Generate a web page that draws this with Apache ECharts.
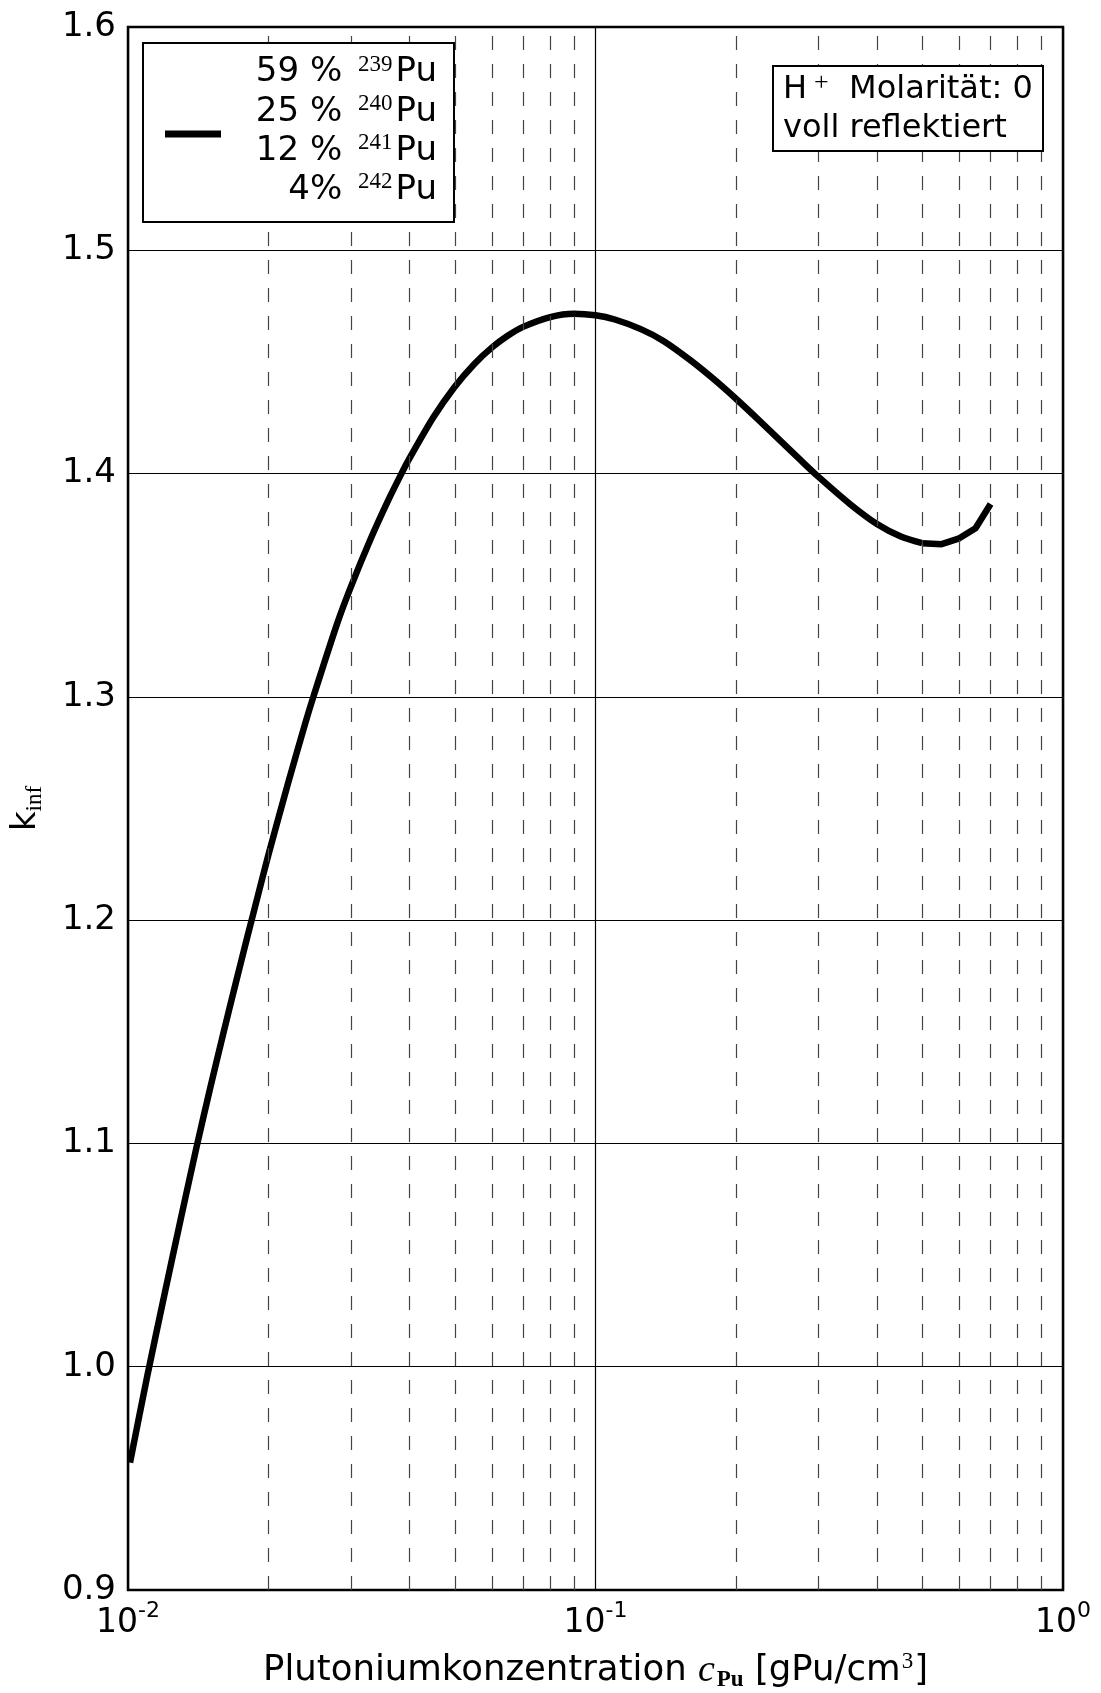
<!DOCTYPE html>
<html>
<head>
<meta charset="utf-8">
<script src="https://cdn.jsdelivr.net/npm/echarts@6/dist/echarts.min.js"></script>
<style>
  html, body { margin: 0; padding: 0; background: #fff; }
  #chart { width: 1101px; height: 1693px; }
</style>
</head>
<body>
<div id="chart"></div>
<script>
// Plutonium concentration in gPu/cm^3 and the infinite multiplication factor k_inf
const concentration = [
  0.0101, 0.011, 0.012, 0.013, 0.014, 0.015, 0.016, 0.017, 0.018, 0.019,
  0.020, 0.022, 0.024, 0.025, 0.028, 0.030, 0.033, 0.036, 0.0385, 0.040,
  0.045, 0.050, 0.055, 0.060, 0.065, 0.070, 0.080, 0.090, 0.100, 0.110,
  0.125, 0.140, 0.160, 0.180, 0.200, 0.225, 0.250, 0.275, 0.300, 0.350,
  0.400, 0.450, 0.500, 0.550, 0.600, 0.650, 0.700
];
const kInf = [
  0.957, 0.996, 1.0335, 1.0672, 1.0979, 1.125, 1.1495, 1.1718, 1.1925, 1.2117,
  1.2298, 1.2614, 1.2889, 1.301, 1.3327, 1.3495, 1.3705, 1.3879, 1.4002, 1.4068,
  1.4252, 1.4389, 1.449, 1.4564, 1.4618, 1.4657, 1.4701, 1.4716, 1.4709, 1.469,
  1.4647, 1.4593, 1.4506, 1.4419, 1.4334, 1.4234, 1.4142, 1.4059, 1.3985, 1.3864,
  1.3774, 1.3718, 1.3688, 1.3684, 1.371, 1.3755, 1.3864
];

// the coarse high-concentration end is drawn as straight segments
const coarseFrom = 0.5;

// dashed grid at the intermediate decade steps of the log axis
const minorGridValues = [
  0.02, 0.03, 0.04, 0.05, 0.06, 0.07, 0.08, 0.09,
  0.2, 0.3, 0.4, 0.5, 0.6, 0.7, 0.8, 0.9
];

const xRange = [0.01, 1];
const yRange = [0.9, 1.6];
const yStep = 0.1;

// composition of the plutonium vector
const isotopeShares = ['59 %', '25 %', '12 %', '4%'];
const isotopeMasses = ['239', '240', '241', '242'];

const infoLines = ['Molarität: 0', 'voll reflektiert'];

const SANS = '"DejaVu Sans", "Noto Sans", sans-serif';
const SERIF = '"Liberation Serif", "DejaVu Serif", serif';

const curve = concentration.map((c, i) => [c, kInf[i]]);
const splitAt = concentration.indexOf(coarseFrom);
const curveFine = curve.slice(0, splitAt + 1);
const curveCoarse = curve.slice(splitAt);

const chart = echarts.init(document.getElementById('chart'), null, { renderer: 'canvas' });

const legendText = isotopeShares.map((s, i) =>
  '{n|' + s + ' }{s|' + isotopeMasses[i] + '}{n|Pu}'
).join('\n');

const curveStyle = { color: '#000', width: 6.5, cap: 'butt', join: 'round' };

chart.setOption({
  animation: false,
  backgroundColor: '#fff',
  grid: {
    left: 128, top: 27, right: 38, bottom: 103,
    outerBoundsMode: 'none',
    containLabel: false,
    show: true, borderColor: '#000', borderWidth: 2.5, backgroundColor: 'transparent'
  },
  xAxis: {
    type: 'log',
    logBase: 10,
    min: xRange[0],
    max: xRange[1],
    axisLine: { show: false },
    axisTick: { show: false },
    splitLine: { show: true, lineStyle: { color: '#000', width: 1.2 } },
    axisLabel: {
      margin: 10,
      showMinLabel: true,
      showMaxLabel: true,
      formatter: v => '{b|10}{s|' + Math.round(Math.log10(v)) + '}',
      rich: {
        b: { fontFamily: SANS, fontSize: 33, color: '#000', lineHeight: 40, verticalAlign: 'bottom' },
        s: { fontFamily: SANS, fontSize: 22, color: '#000', lineHeight: 18, verticalAlign: 'top' }
      }
    },
    name: '{t|Plutoniumkonzentration }{c|c}{pu|Pu}{t| [gPu/cm}{e|3}{t|]}',
    nameLocation: 'middle',
    nameGap: 60,
    nameTextStyle: {
      rich: {
        t: { fontFamily: SANS, fontSize: 35.5, color: '#000', lineHeight: 42 },
        c: { fontFamily: SERIF, fontStyle: 'italic', fontSize: 38, color: '#000', lineHeight: 42, padding: [0, 2, 0, 0] },
        pu: { fontFamily: SERIF, fontWeight: 'bold', fontSize: 23, color: '#000', lineHeight: 26, verticalAlign: 'bottom' },
        e: { fontFamily: SERIF, fontSize: 23, color: '#000', lineHeight: 22, verticalAlign: 'top', padding: [0, 1, 0, 1] }
      }
    }
  },
  yAxis: {
    type: 'value',
    min: yRange[0],
    max: yRange[1],
    interval: yStep,
    axisLine: { show: false },
    axisTick: { show: false },
    splitLine: { show: true, lineStyle: { color: '#000', width: 1.2 } },
    axisLabel: {
      margin: 12,
      fontFamily: SANS,
      fontSize: 34,
      color: '#000',
      padding: [0, 0, 6, 0],
      formatter: v => v.toFixed(1)
    },
    name: '{k|k}{i|inf}',
    nameLocation: 'middle',
    nameRotate: 90,
    nameGap: 82,
    nameTextStyle: {
      rich: {
        k: { fontFamily: SANS, fontSize: 34, color: '#000', lineHeight: 40 },
        i: { fontFamily: SERIF, fontSize: 23, color: '#000', lineHeight: 24, verticalAlign: 'bottom' }
      }
    }
  },
  series: [
    {
      type: 'line',
      data: [],
      z: 1,
      silent: true,
      markLine: {
        silent: true,
        symbol: 'none',
        label: { show: false },
        lineStyle: { color: '#444', width: 1.2, type: [14, 14] },
        emphasis: { disabled: true },
        data: minorGridValues.map(v => ({ xAxis: v }))
      }
    },
    {
      name: 'Pu',
      type: 'line',
      data: curveFine,
      z: 3,
      symbol: 'none',
      smooth: 0.25,
      lineStyle: curveStyle
    },
    {
      name: 'Pu',
      type: 'line',
      data: curveCoarse,
      z: 3,
      symbol: 'none',
      smooth: false,
      lineStyle: curveStyle
    }
  ],
  graphic: [
    // isotope legend
    {
      type: 'rect', z: 100,
      shape: { x: 143, y: 43, width: 311, height: 179 },
      style: { fill: '#fff', stroke: '#000', lineWidth: 2 }
    },
    {
      type: 'line', z: 101,
      shape: { x1: 165, y1: 134, x2: 221, y2: 134 },
      style: { stroke: '#000', lineWidth: 7 }
    },
    {
      type: 'text', z: 101,
      x: 437, y: 53,
      style: {
        text: legendText,
        align: 'right',
        verticalAlign: 'top',
        rich: {
          n: { fontFamily: SANS, fontSize: 34, fill: '#000', lineHeight: 39.3, align: 'right' },
          s: { fontFamily: SERIF, fontSize: 23, fill: '#000', lineHeight: 18, verticalAlign: 'top', align: 'right', padding: [0, 3, 0, 5] }
        }
      }
    },
    // conditions box
    {
      type: 'rect', z: 100,
      shape: { x: 773, y: 66, width: 270, height: 85 },
      style: { fill: '#fff', stroke: '#000', lineWidth: 2 }
    },
    {
      type: 'text', z: 101,
      x: 783, y: 70,
      style: {
        text: '{m|H}{p|+}{m|  ' + infoLines[0] + '}\n{m|' + infoLines[1] + '}',
        align: 'left',
        verticalAlign: 'top',
        rich: {
          m: { fontFamily: SANS, fontSize: 32, fill: '#000', lineHeight: 39 },
          p: { fontFamily: SERIF, fontSize: 26, fill: '#000', lineHeight: 20, verticalAlign: 'top', padding: [0, 0, 0, 7] }
        }
      }
    }
  ]
});
</script>
</body>
</html>
